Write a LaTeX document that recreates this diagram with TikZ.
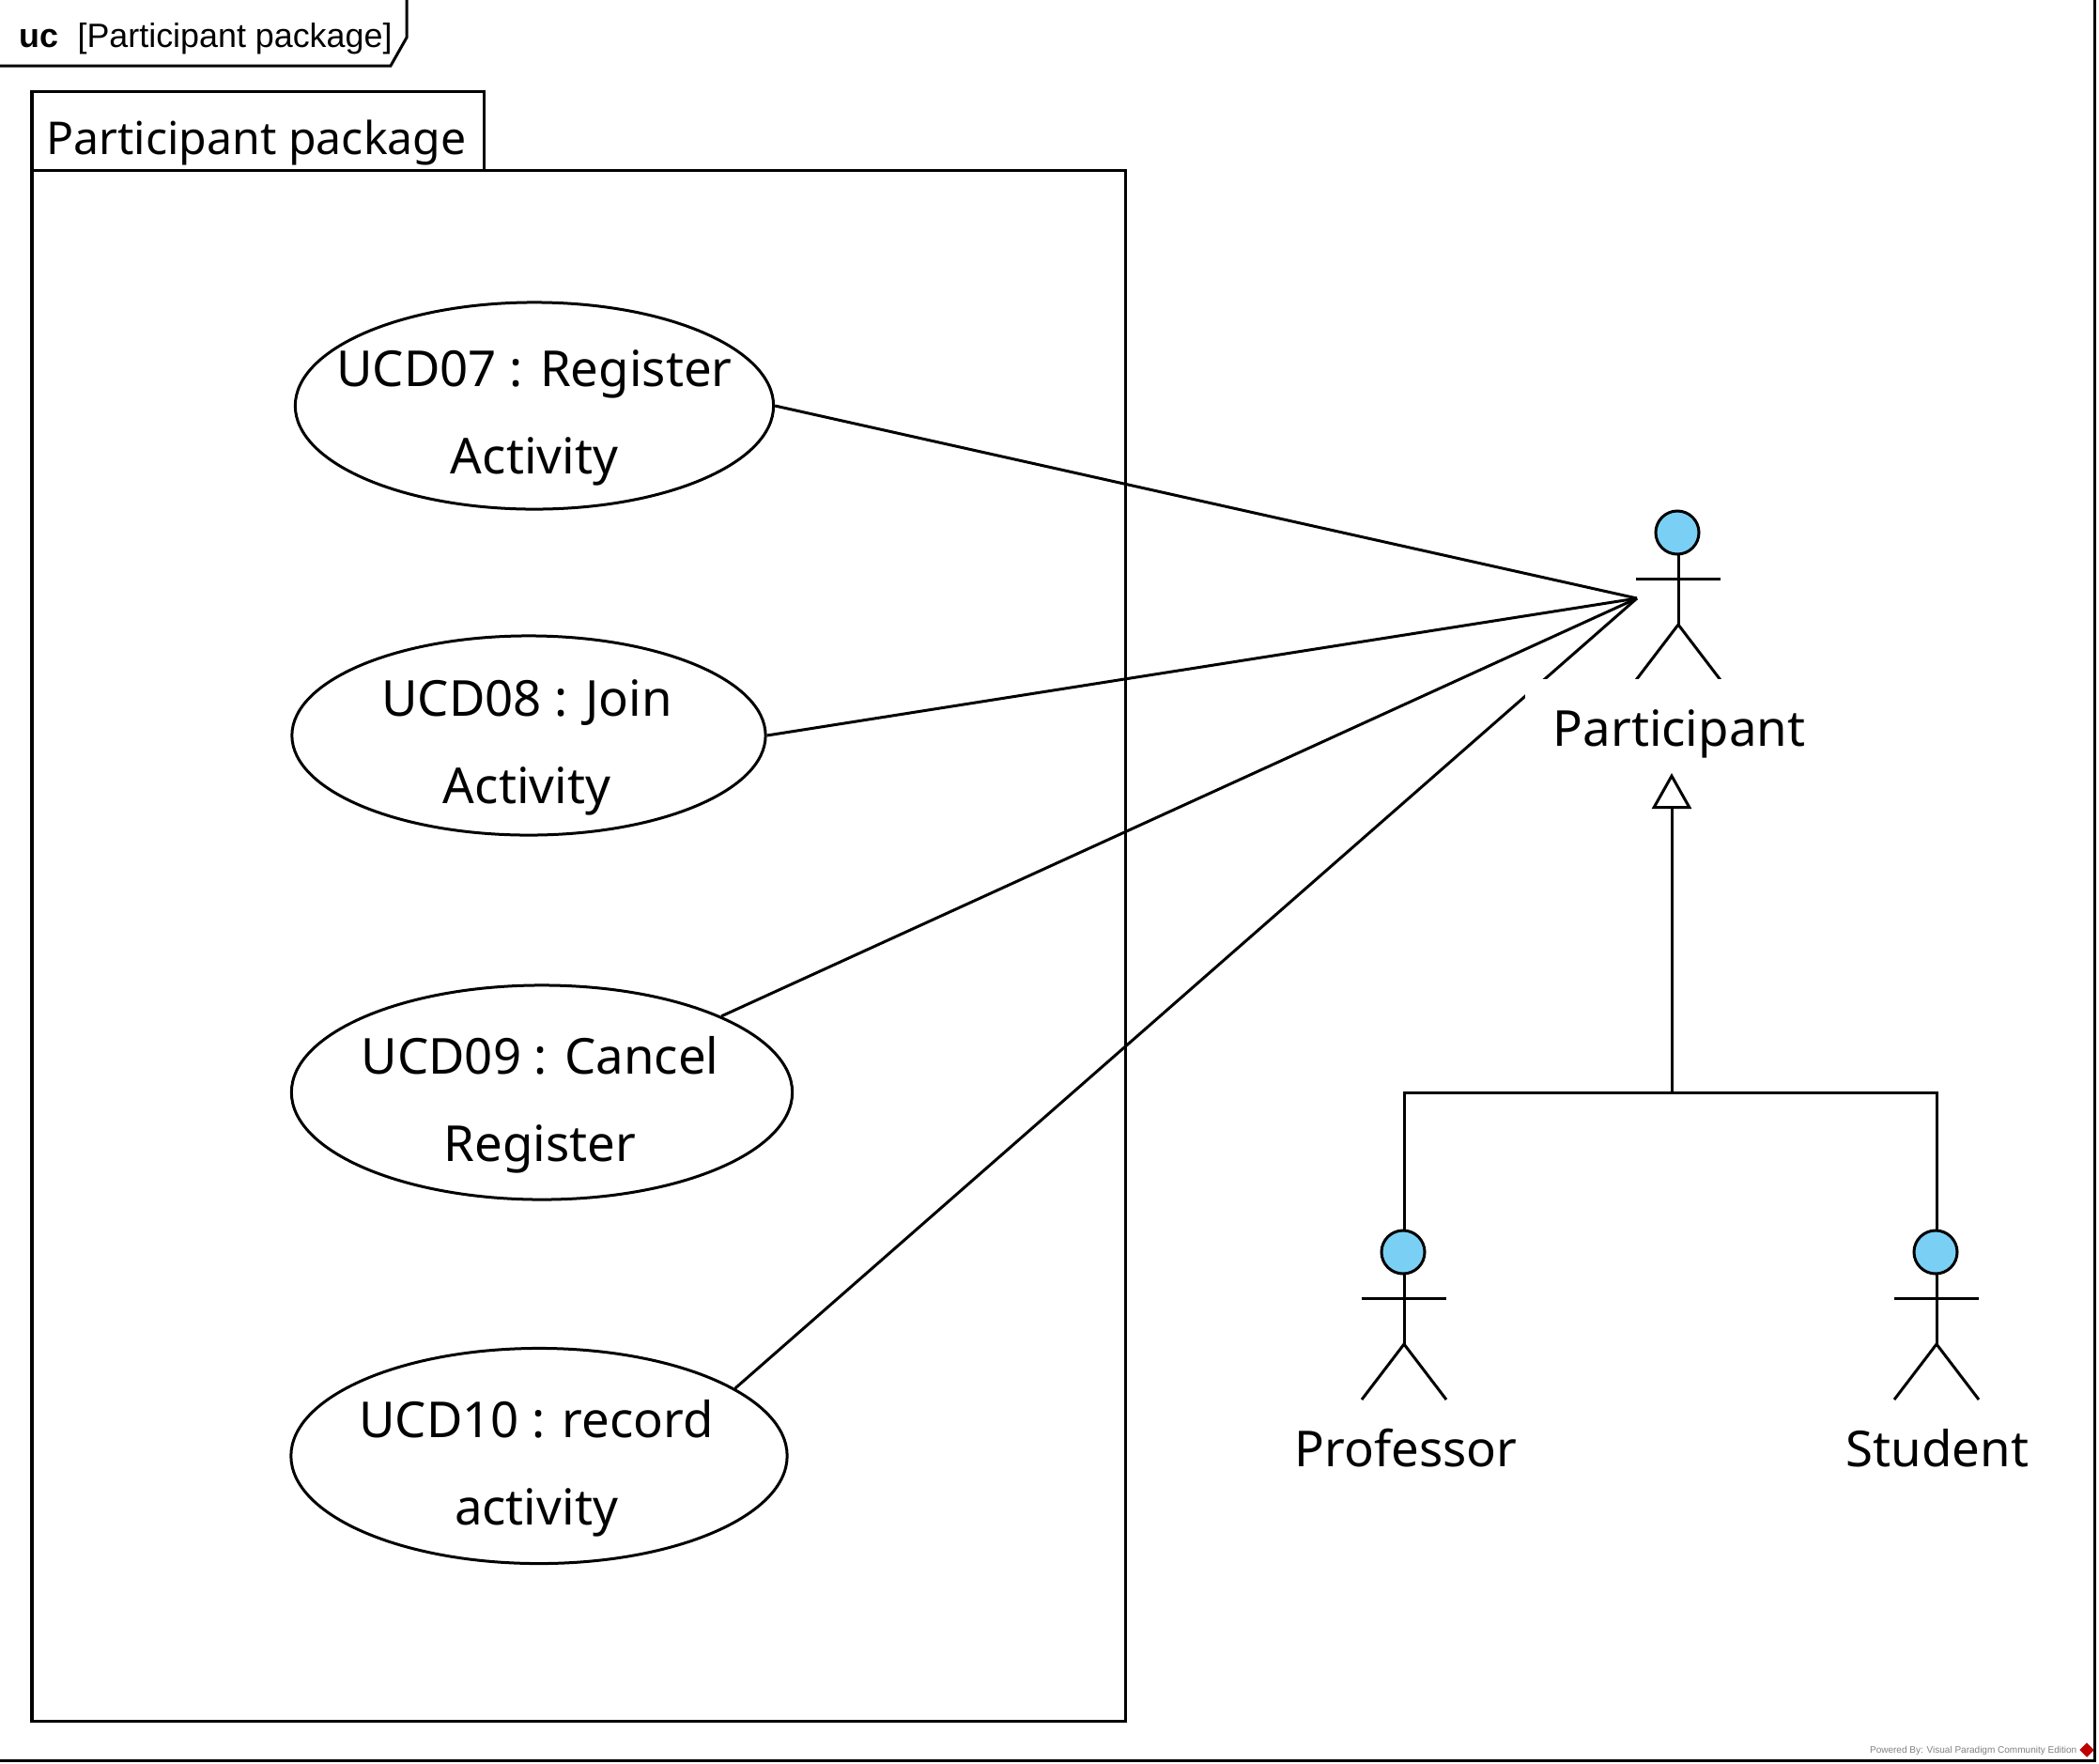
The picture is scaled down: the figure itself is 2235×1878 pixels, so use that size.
\documentclass[tikz,border=0pt]{standalone}
\usepackage{fontspec}
\setmainfont{Noto Sans}
\newfontfamily\arialfont{Liberation Sans}
\usetikzlibrary{arrows.meta,shapes.geometric}
\definecolor{actorBlue}{HTML}{7ACFF5}
\tikzset{
  umlLine/.style={line width=0.03cm},
  useCase/.style={draw, ellipse, umlLine, inner sep=0pt},
  caseText/.style={align=center, font=\fontsize{15}{26.4}\selectfont, yshift=-0.13cm},
  actorHead/.style={draw, circle, umlLine, fill=actorBlue, inner sep=0pt, minimum size=0.46cm},
  actorName/.style={font=\fontsize{15}{18}\selectfont},
}
\begin{document}
\begin{tikzpicture}[x=0.01cm, y=-0.01cm]
  \useasboundingbox (0,0) rectangle (2235,1878);

  % Outer frame and its title tab
  \draw[umlLine] (2230,0) -- (2230,1874) -- (0,1874);
  \draw[umlLine] (433,0) -- (433,40) -- (416,70) -- (0,70);
  \node[anchor=west, inner sep=0pt, font=\fontsize{10.2}{12}\arialfont] (frameTitle) at (20,41)
    {\textbf{uc}\hspace{0.20cm}[Participant package]};

  % Package
  \draw[umlLine] (34,97) rectangle (515,181);
  \draw[umlLine] (34,181) rectangle (1198,1832);
  \node[font=\fontsize{13.7}{16}\selectfont] (pkgName) at (273,152) {Participant package};

  % Use cases
  \node[useCase, minimum width=5.09cm, minimum height=2.20cm,
    label={[caseText]center:UCD07 : Register\\Activity}] (ucd07) at (569,432) {};
  \node[useCase, minimum width=5.04cm, minimum height=2.12cm,
    label={[caseText, xshift=-0.02cm]center:UCD08 : Join\\Activity}] (ucd08) at (563,783) {};
  \node[useCase, minimum width=5.33cm, minimum height=2.28cm,
    label={[caseText, xshift=-0.02cm]center:UCD09 : Cancel\\Register}] (ucd09) at (577,1163) {};
  \node[useCase, minimum width=5.28cm, minimum height=2.29cm,
    label={[caseText, xshift=-0.03cm]center:UCD10 : record\\activity}] (ucd10) at (574,1550) {};

  % Associations to the actor
  \coordinate (partIn) at (1743,637);
  \draw[umlLine] (ucd07.east) -- (partIn);
  \draw[umlLine] (ucd08.east) -- (partIn);
  \draw[umlLine] (ucd09.23) -- (partIn);
  \draw[umlLine] (ucd10.19) -- (partIn);

  % Actors
  \foreach \name/\x/\y in {part/1787/567, prof/1495/1333, stu/2062/1333} {
      \coordinate (\name Top) at (\x,\y-23);
      \draw[umlLine] (\x,\y+20) -- (\x,\y+98);
      \draw[umlLine] (\x-45,\y+49) -- (\x+45,\y+49);
      \draw[umlLine] (\x-45,\y+157) -- (\x,\y+98) -- (\x+45,\y+157);
      \node[actorHead] (\name Head) at (\x-1,\y) {};
  }

  % The white box of this label cuts the last association
  \node[fill=white, minimum width=3.28cm, minimum height=0.99cm,
    label={[actorName, yshift=-0.08cm]center:Participant}] (partName) at (1788,773) {};
  \node[actorName] (profName) at (1497,1542) {Professor};
  \node[actorName] (stuName) at (2063,1542) {Student};

  % Generalization
  \coordinate (genJoin) at (1780,1163);
  \coordinate (genTip) at (1780,823);
  \draw[umlLine, -{Triangle[open, length=0.38cm, width=0.42cm]}] (genJoin) -- (genTip);
  \draw[umlLine] (profTop) |- (genJoin);
  \draw[umlLine] (stuTop) |- (genJoin);

  % Watermark
  \node[anchor=east, inner sep=0pt, text=gray, font=\fontsize{2.85}{3}\arialfont] (powered) at (2212,1864)
    {Powered By: Visual Paradigm Community Edition};
  \node[diamond, fill=red!75!black, inner sep=0pt, minimum size=0.16cm] (vpLogo) at (2222,1863) {};
\end{tikzpicture}
\end{document}
